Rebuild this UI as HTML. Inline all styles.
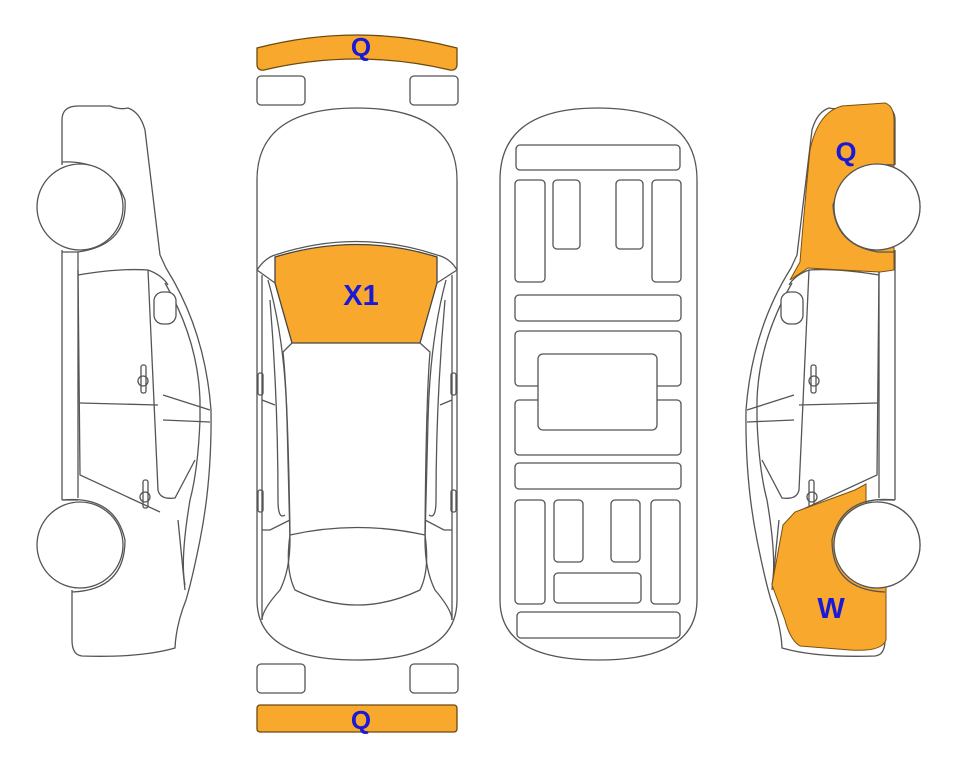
<!DOCTYPE html>
<html><head><meta charset="utf-8"><style>
html,body{margin:0;padding:0;background:#fff;}
svg{display:block;}
text{font-family:"Liberation Sans",sans-serif;font-weight:bold;fill:#1a1ad6;}
</style></head><body>
<svg width="963" height="768" viewBox="0 0 963 768" xmlns="http://www.w3.org/2000/svg">
<defs>
<g id="side" fill="none" stroke="#555" stroke-width="1.3">
  <path d="M62,165 L62,120 Q62,106 78,106 L110,106 Q120,110 128,108 Q140,112 145,130 Q152,190 160,255 L166,268 Q205,330 211,410 Q212,480 200,540 Q192,580 186,600 Q176,625 175,648 Q140,658 82,656 Q72,655 72,640 L72,590" fill="#fff"/>
  <path d="M62,250 L62,500 M78,252 L78,498 M62,500 L78,500"/>
  <path d="M62,162 Q110,160 125,200 Q128,245 78,252 L62,252"/>
  <path d="M62,500 Q115,495 125,540 Q125,590 72,592"/>
  <circle cx="80" cy="207" r="43" fill="#fff"/>
  <circle cx="80" cy="545" r="43" fill="#fff"/>
  <path d="M78,275 Q120,268 148,270 Q162,275 168,285"/>
  <path d="M148,270 L158,490 Q160,500 175,498 L195,460"/>
  <path d="M78,270 L80,475 L160,512"/>
  <path d="M80,403 L158,405"/>
  <path d="M165,283 Q198,340 200,400 L200,420 Q198,470 190,500 Q180,560 185,585"/>
  <path d="M163,395 L210,410 M163,420 L210,422"/>
  <path d="M178,520 L185,590"/>
  <rect x="154" y="292" width="22" height="32" rx="9" fill="#fff"/>
  <rect x="141" y="365" width="5" height="28" rx="2"/><circle cx="143" cy="381" r="5"/>
  <rect x="143" y="480" width="5" height="28" rx="2"/><circle cx="145" cy="497" r="5"/>
</g>
</defs>

<use href="#side"/>

<g transform="translate(957,0) scale(-1,1)">
  <use href="#side"/>
</g>
<path d="M790,280 L800,262 Q805,200 810,150 Q818,112 842,106 L885,103 Q895,106 894,125 L894,270 L880,272 Q840,270 808,268 Z" fill="#f9a82e" stroke="#7a5010" stroke-width="1"/>
<path d="M772,585 L783,525 L795,512 L855,490 L866,484 L866,530 L886,580 L886,640 Q882,652 850,650 L800,646 Q790,640 785,620 Z" fill="#f9a82e" stroke="#7a5010" stroke-width="1"/>
<g fill="#fff" stroke="#555" stroke-width="1.3">
  <path d="M894,165 Q848,162 833,205 Q835,245 878,252 L894,252" fill="none"/>
  <path d="M894,500 Q842,495 832,540 Q832,590 885,592" fill="none"/>
  <circle cx="877" cy="207" r="43"/>
  <circle cx="877" cy="545" r="43"/>
</g>
<text x="846" y="161" font-size="27" text-anchor="middle">Q</text>
<text x="831" y="618" font-size="29" text-anchor="middle">W</text>

<g fill="none" stroke="#555" stroke-width="1.3">
  <path d="M257,48 Q357,22 457,48 L457,64 Q457,71 450,70 Q357,48 264,70 Q257,71 257,64 Z" fill="#f9a82e" stroke="#6a4a10"/>
  <rect x="257" y="76" width="48" height="29" rx="4"/>
  <rect x="410" y="76" width="48" height="29" rx="4"/>
  <path d="M257,180 Q257,108 357,108 Q457,108 457,180 L457,600 Q457,660 357,660 Q257,660 257,600 Z" fill="#fff"/>
  <path d="M257,270 Q265,258 275,255 Q357,228 437,255 Q450,258 457,270"/>
  <path d="M275,257 Q357,232 437,257 L437,283 L420,343 L292,343 L275,283 Z" fill="#f9a82e" stroke="#444"/>
  <path d="M257,270 L275,283 M457,270 L437,283"/>
  <path d="M262,275 L262,620 M452,275 L452,620"/>
  <path d="M268,280 Q285,340 287,420 L290,540 Q290,570 280,590 Q262,610 262,620"/>
  <path d="M446,280 Q430,340 428,420 L425,540 Q425,570 435,590 Q452,610 452,620"/>
  <path d="M292,343 L283,352 Q288,400 290,535 M420,343 L430,352 Q426,400 425,535"/>
  <path d="M270,300 Q278,400 278,500 Q278,520 285,515 M445,300 Q436,400 436,500 Q436,520 429,515"/>
  <path d="M290,535 Q357,520 425,535 Q430,570 420,590 Q357,620 295,590 Q285,570 290,535 Z"/>
  <path d="M262,530 L270,530 L290,520 M452,530 L444,530 L425,520"/>
  <path d="M262,400 L275,405 M452,400 L440,405"/>
  <rect x="258" y="373" width="5" height="22" rx="2"/><rect x="451" y="373" width="5" height="22" rx="2"/>
  <rect x="258" y="490" width="5" height="22" rx="2"/><rect x="451" y="490" width="5" height="22" rx="2"/>
  <rect x="257" y="664" width="48" height="29" rx="4"/>
  <rect x="410" y="664" width="48" height="29" rx="4"/>
  <rect x="257" y="705" width="200" height="27" rx="3" fill="#f9a82e" stroke="#6a4a10"/>
</g>
<text x="361" y="305" font-size="29" text-anchor="middle">X1</text>
<text x="361" y="56" font-size="26" text-anchor="middle">Q</text>
<text x="361" y="729" font-size="26" text-anchor="middle">Q</text>

<g fill="#fff" stroke="#555" stroke-width="1.3">
  <path d="M500,180 Q500,108 598,108 Q697,108 697,180 L697,600 Q697,660 598,660 Q500,660 500,600 Z"/>
  <rect x="516" y="145" width="164" height="25" rx="4"/>
  <rect x="515" y="180" width="30" height="102" rx="4"/>
  <rect x="553" y="180" width="27" height="69" rx="4"/>
  <rect x="616" y="180" width="27" height="69" rx="4"/>
  <rect x="652" y="180" width="29" height="102" rx="4"/>
  <rect x="515" y="295" width="166" height="26" rx="4"/>
  <rect x="515" y="331" width="166" height="55" rx="4"/>
  <rect x="515" y="400" width="166" height="55" rx="4"/>
  <rect x="538" y="354" width="119" height="76" rx="5"/>
  <rect x="515" y="463" width="166" height="26" rx="4"/>
  <rect x="515" y="500" width="30" height="104" rx="4"/>
  <rect x="554" y="500" width="29" height="62" rx="4"/>
  <rect x="611" y="500" width="29" height="62" rx="4"/>
  <rect x="651" y="500" width="29" height="104" rx="4"/>
  <rect x="554" y="573" width="87" height="30" rx="4"/>
  <rect x="517" y="612" width="163" height="26" rx="4"/>
</g>
</svg>
</body></html>
